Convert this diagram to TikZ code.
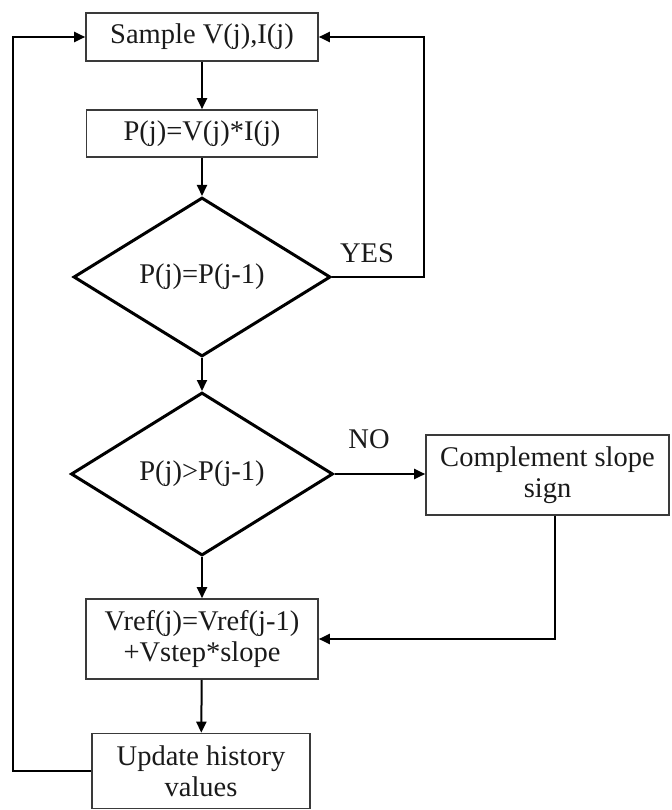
\documentclass[tikz,border=0pt]{standalone}
\usepackage{fontspec}
\setmainfont{Liberation Serif}
\usetikzlibrary{shapes.geometric,arrows.meta}
\definecolor{boxgray}{HTML}{3A3A3A}
\definecolor{txt}{HTML}{1A1A1A}
\begin{document}
\begin{tikzpicture}[x=1pt,y=-1pt,
  every node/.style={text=txt,font=\fontsize{28.5}{31}\selectfont},
  procbox/.style={draw=boxgray,line width=1.6pt,rectangle,inner sep=0pt,align=center},
  decision/.style={draw=black,line width=3pt,diamond,aspect=1.62,inner sep=0pt},
  flow/.style={draw=black,line width=2pt,-{Triangle[length=11pt,width=10pt]}},
  lbl/.style={inner sep=0pt}]
\useasboundingbox (0,0) rectangle (671,810);
\node[procbox,minimum width=232pt,minimum height=48pt] (sample) at (202,37) {Sample V(j),I(j)};
\node[procbox,minimum width=231pt,minimum height=47pt] (pbox) at (202,133.5) {P(j)=V(j)*I(j)};
\node[decision,minimum width=257pt,minimum height=159pt] (d1) at (202,277) {P(j)=P(j-1)};
\node[decision,minimum width=262pt,minimum height=163pt] (d2) at (202,474) {P(j)>P(j-1)};
\node[procbox,minimum width=243pt,minimum height=80pt] (cs) at (547.5,475) {Complement slope\\sign};
\node[procbox,minimum width=232pt,minimum height=80pt] (vref) at (202,639) {Vref(j)=Vref(j-1)\\+Vstep*slope};
\node[procbox,minimum width=218pt,minimum height=75pt] (upd) at (201,771) {Update history\\values};
\node[lbl] (yes) at (367,253) {YES};
\node[lbl] (no) at (369,439) {NO};
\coordinate (r1) at (424,37);
\coordinate (l1) at (13,37);
\coordinate (c1) at (555,639);
\draw[flow] (sample) -- (pbox);
\draw[flow] (pbox) -- (d1);
\draw[flow] (d1) -- (d2);
\draw[flow] (d2) -- (vref);
\draw[flow] (vref) -- (upd);
\draw[flow] (d1.east) -| (r1) -- (sample.east);
\draw[flow] (upd.west) -| (l1) -- (sample.west);
\draw[flow] (d2.east) -- (d2.east -| cs.west);
\draw[flow] (cs.south -| c1) -- (c1) -- (vref.east);
\end{tikzpicture}
\end{document}
